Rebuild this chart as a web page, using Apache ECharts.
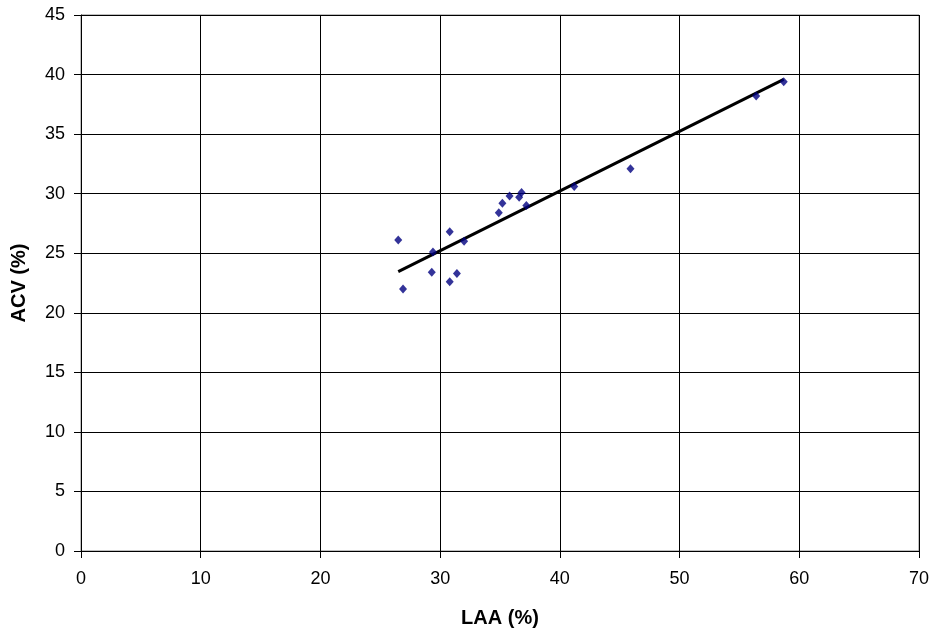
<!DOCTYPE html>
<html><head><meta charset="utf-8">
<script src="https://cdn.jsdelivr.net/npm/echarts@6/dist/echarts.min.js"></script>
<style>html,body{margin:0;padding:0;background:#fff}#c{width:937px;height:636px}</style>
</head><body><div id="c"></div>
<script>
const laa = [26.5, 26.9, 29.4, 29.3, 30.8, 30.8, 31.4, 32.0, 34.9, 35.2, 35.8, 36.6, 36.8, 37.2, 41.2, 45.9, 56.4, 58.7];
const acv = [26.1, 22.0, 25.1, 23.4, 26.8, 22.6, 23.3, 26.0, 28.4, 29.2, 29.8, 29.7, 30.1, 29.0, 30.6, 32.1, 38.2, 39.4];
const trendX = [26.5, 58.7];
const trendY = [23.45, 39.6];
const xTicks = [0, 10, 20, 30, 40, 50, 60, 70];
const yTicks = [0, 5, 10, 15, 20, 25, 30, 35, 40, 45];

const chart = echarts.init(document.getElementById('c'));
const font = 'Liberation Sans, Arial, sans-serif';
chart.setOption({
  animation: false,
  backgroundColor: '#fff',
  grid: {left: 81, top: 15, right: 18, bottom: 85, show: true, borderColor: '#808080', borderWidth: 1},
  xAxis: {
    type: 'value', min: xTicks[0], max: xTicks[xTicks.length-1], interval: 10,
    name: 'LAA (%)', nameLocation: 'middle', nameGap: 57,
    nameTextStyle: {fontFamily: font, fontSize: 20, fontWeight: 'bold', color: '#000'},
    axisLine: {show: true, lineStyle: {color: '#000', width: 1}},
    axisTick: {show: true, inside: false, length: 7, lineStyle: {color: '#000'}},
    axisLabel: {fontFamily: font, fontSize: 18, color: '#000', margin: 19},
    splitLine: {show: true, lineStyle: {color: '#000', width: 1}}
  },
  yAxis: {
    type: 'value', min: yTicks[0], max: yTicks[yTicks.length-1], interval: 5,
    name: 'ACV (%)', nameLocation: 'middle', nameGap: 52, nameRotate: 90,
    nameTextStyle: {fontFamily: font, fontSize: 20, fontWeight: 'bold', color: '#000'},
    axisLine: {show: true, lineStyle: {color: '#000', width: 1}},
    axisTick: {show: true, inside: false, length: 7, lineStyle: {color: '#000'}},
    axisLabel: {fontFamily: font, fontSize: 18, color: '#000', margin: 16},
    splitLine: {show: true, lineStyle: {color: '#000', width: 1}}
  },
  series: [
    {
      type: 'line', data: trendX.map((x, i) => [x, trendY[i]]),
      showSymbol: false, symbol: 'none',
      lineStyle: {color: '#000', width: 3}, z: 2
    },
    {
      type: 'scatter', data: laa.map((x, i) => [x, acv[i]]),
      symbol: 'diamond', symbolSize: [8, 9],
      itemStyle: {color: '#000080'}, z: 3
    }
  ]
});
</script></body></html>
